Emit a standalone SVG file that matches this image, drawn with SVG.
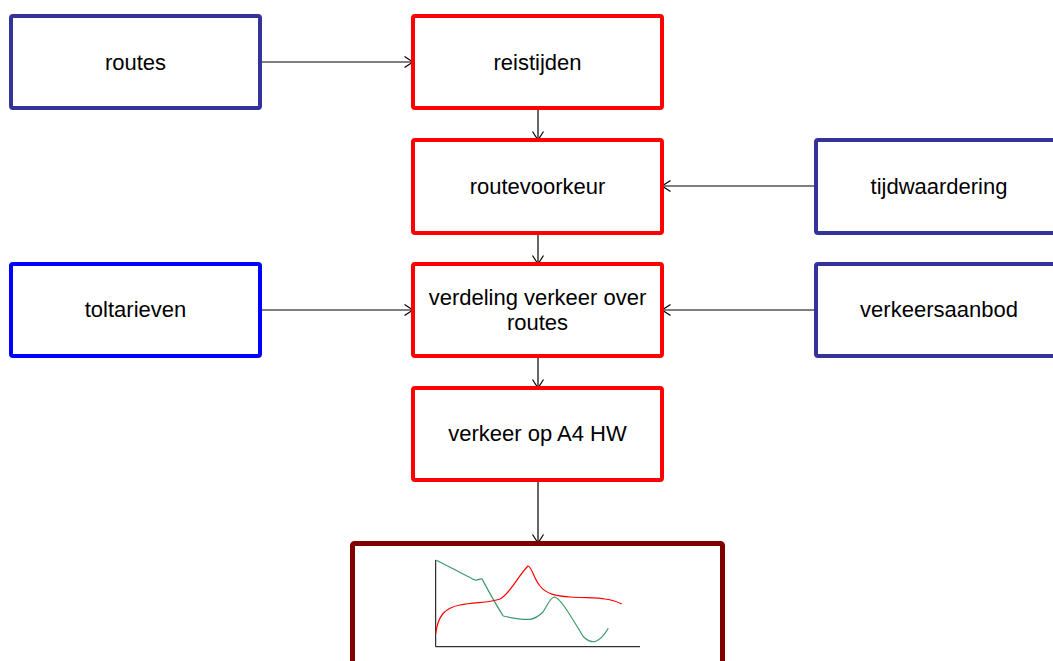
<svg xmlns="http://www.w3.org/2000/svg" width="1053" height="661" viewBox="0 0 1053 661">
<style>
.box{fill:#fff;stroke-width:4}
.in{stroke:#333399}
.blue{stroke:#0000ff}
.red{stroke:#ff0000}
.dark{stroke:#800000;stroke-width:5}
.lbl{font-family:"Liberation Sans",Arial,sans-serif;font-size:22px;fill:#000;text-anchor:middle}
.con{stroke:#000;stroke-width:1.2;fill:none;marker-end:url(#arr)}
</style>
<defs>
<marker id="arr" viewBox="0 0 10 12" refX="9.5" refY="6" markerWidth="10" markerHeight="12" markerUnits="userSpaceOnUse" orient="auto">
<path d="M1,0.5 L9.5,6 L1,11.5" fill="none" stroke="#000" stroke-width="1.2"/>
</marker>
</defs>
<rect width="1053" height="661" fill="#fff"/>
<g id="connectors">
<line class="con" x1="260" y1="62" x2="413" y2="62"/>
<line class="con" x1="538" y1="108" x2="538" y2="140"/>
<line class="con" x1="816" y1="186" x2="662" y2="186"/>
<line class="con" x1="538" y1="233" x2="538" y2="264"/>
<line class="con" x1="260" y1="310" x2="413" y2="310"/>
<line class="con" x1="816" y1="310" x2="662" y2="310"/>
<line class="con" x1="538" y1="356" x2="538" y2="388"/>
<line class="con" x1="538" y1="480" x2="538" y2="543"/>
</g>
<g id="routes"><rect class="box in" x="11" y="16" width="249" height="92" rx="2"/><text class="lbl" x="135.5" y="70">routes</text></g>
<g id="reistijden"><rect class="box red" x="413" y="16" width="249" height="92" rx="2"/><text class="lbl" x="537.5" y="70">reistijden</text></g>
<g id="routevoorkeur"><rect class="box red" x="413" y="140" width="249" height="93" rx="2"/><text class="lbl" x="537.5" y="194">routevoorkeur</text></g>
<g id="tijdwaardering"><rect class="box in" x="816" y="140" width="245" height="93" rx="2"/><text class="lbl" x="939" y="194">tijdwaardering</text></g>
<g id="toltarieven"><rect class="box blue" x="11" y="264" width="249" height="92" rx="2"/><text class="lbl" x="135.5" y="317">toltarieven</text></g>
<g id="verdeling"><rect class="box red" x="413" y="264" width="249" height="92" rx="2"/><text class="lbl" x="537.5" y="305">verdeling verkeer over</text><text class="lbl" x="537.5" y="330">routes</text></g>
<g id="verkeersaanbod"><rect class="box in" x="816" y="264" width="245" height="92" rx="2"/><text class="lbl" x="939" y="317">verkeersaanbod</text></g>
<g id="verkeer"><rect class="box red" x="413" y="388" width="249" height="92" rx="2"/><text class="lbl" x="537.5" y="441">verkeer op A4 HW</text></g>
<g id="grafiek">
<rect class="box dark" x="352.5" y="543.5" width="370" height="130" rx="2"/>
<path d="M435.7,560 L435.7,646.7 L640,646.7" fill="none" stroke="#000" stroke-width="1"/>
<path d="M435.7,560 C450,567 465,575 475,580 C478,581 480,578 482,579 C488,590 496,605 503.3,616 C512,618 522,620 530,619.3 C536,618.5 540,615 543,612 C547,606 550,598 554,597 C560,597 570,615 583.3,636.7 C588,641 592,642 595,641.7 C600,640 605,634 608.3,628.3" fill="none" stroke="#3a9a6a" stroke-width="1.2"/>
<path d="M435.7,634 C438,615 445,608 460,605 C475,602 490,603 500,599 C510,594 520,573 528,566 C532,567 533,577 540,586 C546,594 556,596 570,597 C585,598 598,597 605,599 C612,600 618,602 621.7,604" fill="none" stroke="#ff0000" stroke-width="1.2"/>
</g>
</svg>
